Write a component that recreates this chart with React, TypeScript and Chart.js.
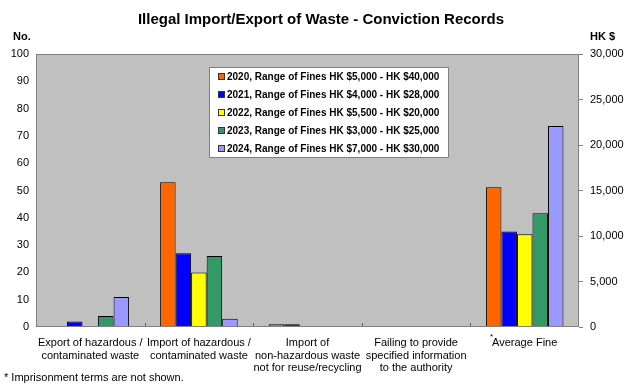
import React, { useEffect, useRef } from "react";
import { Chart, registerables } from "chart.js";

Chart.register(...registerables);

const categories: string[][] = [
  ["Export of hazardous /", "contaminated waste"],
  ["Import of hazardous /", "contaminated waste"],
  ["Import of", "non-hazardous waste", "not for reuse/recycling"],
  ["Failing to provide", "specified information", "to the authority"],
  ["Average Fine"],
];

const seriesNames = [
  "2020, Range of Fines HK $5,000 - HK $40,000",
  "2021, Range of Fines HK $4,000 - HK $28,000",
  "2022, Range of Fines HK $5,500 - HK $20,000",
  "2023, Range of Fines HK $3,000 - HK $25,000",
  "2024, Range of Fines HK $7,000 - HK $30,000",
];
const stackKeys = ["2020", "2021", "2022", "2023", "2024"];

// Number of convictions (left axis) for first four categories
const counts2020 = [0, 53, 1, 0];
const counts2021 = [2, 27, 1, 0];
const counts2022 = [0, 20, 0, 0];
const counts2023 = [4, 26, 0, 0];
const counts2024 = [11, 3, 0, 0];

// Average fine (right axis, HK $)
const avgFines = [15350, 10500, 10200, 12500, 22100];

const colors = ["#FF6600", "#0000FF", "#FFFF00", "#339966", "#9999FF"];

const leftTicksMax = 100;
const leftStep = 10;
const rightTicksMax = 30000;
const rightStep = 5000;

const FONT = '"Liberation Sans", Arial, sans-serif';

const decorPlugin = {
  id: "decor",
  beforeDraw(chart: any) {
    const { ctx, chartArea: a } = chart;
    ctx.save();
    ctx.fillStyle = "#C0C0C0";
    ctx.fillRect(a.left, a.top, a.right - a.left, a.bottom - a.top);
    ctx.restore();
  },
  afterDatasetsDraw(chart: any) {
    const { ctx, chartArea: a } = chart;
    ctx.save();
    ctx.strokeStyle = "#808080";
    ctx.lineWidth = 1;
    ctx.strokeRect(Math.round(a.left) + 0.5, Math.round(a.top) + 0.5, Math.round(a.right - a.left) - 1, Math.round(a.bottom - a.top) - 1);
    // inside tick marks at category boundaries
    const n = categories.length;
    const w = (a.right - a.left) / n;
    ctx.strokeStyle = "#606060";
    for (let i = 1; i < n; i++) {
      const x = Math.round(a.left + w * i) + 0.5;
      ctx.beginPath();
      ctx.moveTo(x, a.bottom - 1);
      ctx.lineTo(x, a.bottom - 4);
      ctx.stroke();
    }
    ctx.restore();
  },
  afterDraw(chart: any) {
    const { ctx } = chart;
    ctx.save();
    ctx.fillStyle = "#000";
    ctx.textBaseline = "middle";
    // Title
    ctx.font = `bold 15px ${FONT}`;
    ctx.textAlign = "center";
    ctx.fillText("Illegal Import/Export of Waste - Conviction Records", 321, 20);
    // Axis titles
    ctx.font = `bold 11px ${FONT}`;
    ctx.textAlign = "left";
    ctx.fillText("No.", 13, 37);
    ctx.fillText("HK $", 590, 37);
    // Footnote
    ctx.font = `11px ${FONT}`;
    ctx.fillText("* Imprisonment terms are not shown.", 4, 378);
    // asterisk for Average Fine
    const xs = chart.scales.x;
    const cx = xs.getPixelForValue(4);
    ctx.font = `11px ${FONT}`;
    const lw = ctx.measureText("Average Fine").width;
    ctx.font = `8px ${FONT}`;
    ctx.textAlign = "right";
    ctx.fillText("*", cx - lw / 2 + 1, 337);

    // Legend box
    const bx = 209, by = 67, bw = 240, bh = 91;
    ctx.fillStyle = "#FFFFFF";
    ctx.fillRect(bx, by, bw, bh);
    ctx.strokeStyle = "#808080";
    ctx.lineWidth = 1;
    ctx.strokeRect(bx + 0.5, by + 0.5, bw - 1, bh - 1);
    ctx.font = `bold 10px ${FONT}`;
    ctx.textAlign = "left";
    for (let i = 0; i < seriesNames.length; i++) {
      const y = 76 + i * 18;
      ctx.fillStyle = colors[i];
      ctx.fillRect(218, y - 3, 7, 7);
      ctx.strokeStyle = "#333";
      ctx.strokeRect(218.5, y - 2.5, 6, 6);
      ctx.fillStyle = "#000";
      ctx.fillText(seriesNames[i], 227, y + 1);
    }
    ctx.restore();
  },
};

export default function App() {
  const ref = useRef<HTMLCanvasElement | null>(null);
  useEffect(() => {
    document.body.style.margin = "0";
    const countSeries = [counts2020, counts2021, counts2022, counts2023, counts2024];
    const datasets: any[] = [];
    countSeries.forEach((c, i) => {
      datasets.push({
        label: seriesNames[i],
        data: [...c, null],
        backgroundColor: colors[i],
        borderColor: "#000",
        borderWidth: 1,
        yAxisID: "y",
        stack: stackKeys[i],
        categoryPercentage: 5 / 7,
        barPercentage: 1,
      });
    });
    avgFines.forEach((v, i) => {
      datasets.push({
        label: seriesNames[i] + " (fine)",
        data: [null, null, null, null, v],
        backgroundColor: colors[i],
        borderColor: "#000",
        borderWidth: 1,
        yAxisID: "y1",
        stack: stackKeys[i],
        categoryPercentage: 5 / 7,
        barPercentage: 1,
      });
    });
    const chart = new Chart(ref.current as HTMLCanvasElement, {
      type: "bar",
      data: { labels: categories, datasets },
      options: {
        animation: false,
        responsive: false,
        maintainAspectRatio: false,
        layout: { padding: { top: 54, left: 0, right: 0, bottom: 0 } },
        plugins: {
          legend: { display: false },
          title: { display: false },
          tooltip: { enabled: false },
        },
        scales: {
          x: {
            grid: { display: false, drawTicks: false },
            border: { display: false },
            ticks: {
              color: "#000",
              font: { family: FONT, size: 11, lineHeight: 1.18 },
              padding: 9,
              autoSkip: false,
              maxRotation: 0,
              minRotation: 0,
            },
            afterFit: (s: any) => { s.height = 63; },
          },
          y: {
            position: "left",
            min: 0,
            max: leftTicksMax,
            grid: { display: false, drawTicks: false },
            border: { display: false },
            ticks: {
              stepSize: leftStep,
              color: "#000",
              font: { family: FONT, size: 11 },
              padding: 7,
            },
            afterFit: (s: any) => { s.width = 36; },
          },
          y1: {
            position: "right",
            min: 0,
            max: rightTicksMax,
            grid: { drawOnChartArea: false, drawTicks: true, tickLength: 4, color: "#808080" },
            border: { display: false },
            ticks: {
              stepSize: rightStep,
              color: "#000",
              font: { family: FONT, size: 11 },
              padding: 7,
              callback: (v: any) => Number(v).toLocaleString("en-US"),
            },
            afterFit: (s: any) => { s.width = 61; },
          },
        },
      },
      plugins: [decorPlugin],
    });
    return () => chart.destroy();
  }, []);
  return (
    <div style={{ position: "absolute", left: 0, top: 0, width: 640, height: 390, background: "#fff" }}>
      <canvas ref={ref} width={640} height={390} style={{ width: 640, height: 390 }} />
    </div>
  );
}
